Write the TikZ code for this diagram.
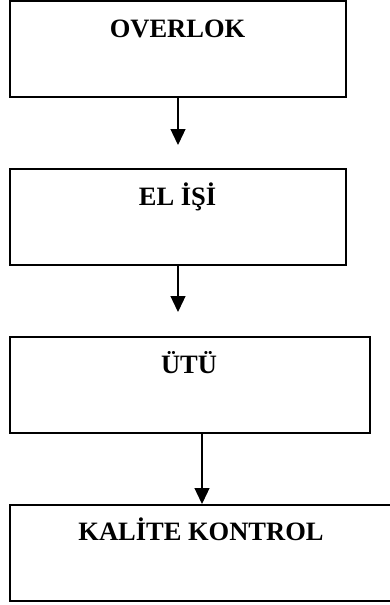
\documentclass[tikz,border=0pt]{standalone}
\usepackage{fontspec}
\setmainfont{Liberation Serif}
\usetikzlibrary{arrows.meta}
\begin{document}
\begin{tikzpicture}[x=1pt,y=-1pt,
  box/.style={draw=black, line width=2pt, minimum height=96pt, inner sep=0pt, fill=white},
  lbl/.style={anchor=base, font=\fontsize{26.5}{30}\selectfont\bfseries, inner sep=0pt},
  flow/.style={line width=1.3pt, -{Triangle[width=15pt,length=16pt]}}]
\useasboundingbox (0,0) rectangle (390,605);
\clip (0,0) rectangle (390,605);
\fill[white] (0,0) rectangle (390,605);
\node[box, minimum width=336pt] (b1) at (178,49) {};
\node[box, minimum width=336pt] (b2) at (178,217) {};
\node[box, minimum width=360pt] (b3) at (190,385) {};
\node[box, minimum width=400pt] (b4) at (210,553) {};
\node[lbl] (t1) at (177.5,37) {OVERLOK};
\node[lbl] (t2) at (177.5,205) {EL İŞİ};
\node[lbl] (t3) at (189,373) {ÜTÜ};
\node[lbl] (t4) at (201,540) {KALİTE KONTROL};
\coordinate (e1) at (178,145);
\coordinate (e2) at (178,312);
\coordinate (p3) at (202,0);
\draw[flow] (b1.south) -- (e1);
\draw[flow] (b2.south) -- (e2);
\draw[flow] (b3.south -| p3) -- (b4.north -| p3);
\end{tikzpicture}
\end{document}
